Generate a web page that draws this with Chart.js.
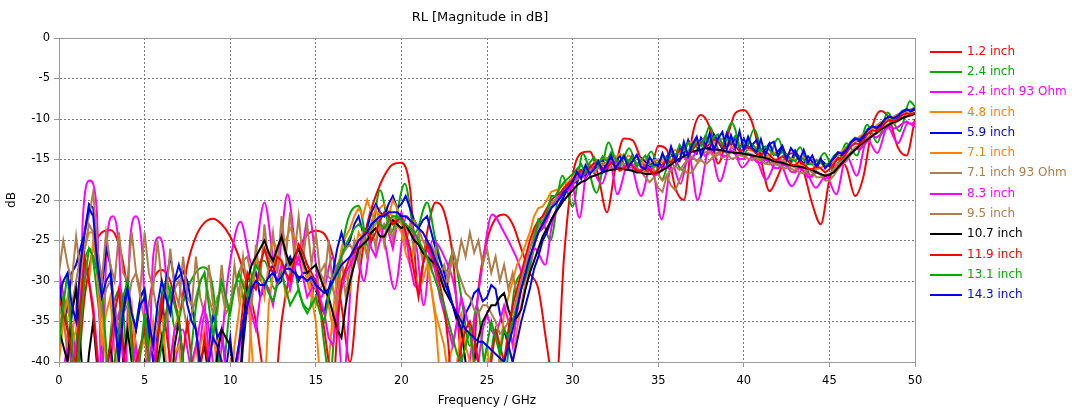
<!DOCTYPE html>
<html>
<head>
<meta charset="utf-8">
<script src="https://cdn.jsdelivr.net/npm/chart.js@4"></script>
<style>
  html, body { margin: 0; padding: 0; background: #fff; }
  #wrap { width: 1072px; height: 412px; }
</style>
</head>
<body>
<div id="wrap"><canvas id="rlChart" width="1072" height="412"></canvas></div>
<script>
// Frequenzraster (GHz): 0.5 GHz fuer 1.2 inch, 0.25 GHz fuer die verrauschten Kurven
const freq = [];
for (let i = 0; i <= 100; i++) freq.push(i / 2);
const freqFine = [];
for (let i = 0; i <= 200; i++) freqFine.push(i / 4);

const seriesNames = ['1.2 inch', '2.4 inch', '2.4 inch 93 Ohm', '4.8 inch', '5.9 inch', '7.1 inch',
  '7.1 inch 93 Ohm', '8.3 inch', '9.5 inch', '10.7 inch', '11.9 inch', '13.1 inch', '14.3 inch'];
const seriesColors = ['#ff0000', '#00aa00', '#ff00ff', '#ff8000', '#0000ff', '#ff8000',
  '#b07c48', '#ff00ff', '#b07c48', '#000000', '#ff0000', '#00aa00', '#0000ff'];

const xTicks = [0, 5, 10, 15, 20, 25, 30, 35, 40, 45, 50];
const yTicks = [0, -5, -10, -15, -20, -25, -30, -35, -40];

// RL in dB
const rl12 = [
  -30, -36, -42, -32, -26, -24, -23.7, -25.5, -31, -40,
  -36, -30, -28.6, -30, -34, -28, -24.5, -22.8, -22.3, -23,
  -24.5, -27, -30.5, -35, -42, -45, -35, -29, -26, -24.3,
  -23.8, -24.2, -27, -33, -40, -30, -23, -19.5, -17, -15.6,
  -15.4, -18.5, -31, -24, -20.3, -21.5, -27, -40, -45, -31,
  -25, -22.3, -21.8, -23, -26, -29, -31, -38, -44, -27,
  -17, -14.2, -14, -17, -21.5, -16, -12.4, -12.6, -15, -16.8,
  -13.3, -13.8, -18.5, -20, -12, -9.5, -11, -15.5, -12.5, -9.3,
  -8.9, -10.5, -15, -18.9, -17, -14.5, -14.2, -16.5, -20.5, -23,
  -17.5, -15, -16, -19.5, -17, -11, -9, -10, -13.5, -14.5,
  -10];

const f24 = [0, 0.4, 0.8, 1.3, 1.8, 2.3, 2.7, 3.2, 3.6, 4.1, 4.6, 5.0, 5.4, 5.9, 6.3, 6.8, 7.2, 7.7, 8.4, 9.0,
  9.5, 10.0, 10.5, 11.0, 11.4, 12.0, 12.6, 13.0, 13.6, 14.1, 14.6, 15.0, 15.5, 15.8, 16.3, 16.8, 17.5, 18.1, 18.75, 19.4,
  20.2, 20.8, 21.5, 22.0, 22.6, 23.0, 23.5, 24.0, 24.4, 25.0, 25.5, 26.0, 26.6, 27.0, 27.6, 28.2, 28.7, 29.4, 30.0, 30.6,
  31.4, 32.1, 32.7, 33.3, 33.9, 34.6, 35.2, 35.8, 36.4, 37.0, 37.5, 38.0, 38.6, 39.3, 40.0, 40.6, 41.3, 42.0, 42.6, 43.3,
  43.9, 44.7, 45.3, 46.0, 46.6, 47.2, 47.8, 48.4, 49.1, 49.7, 50];
const rl24 = [-31, -34, -41, -30, -26, -33, -42, -33, -31, -42, -34, -31, -42, -33, -30, -36, -33, -30, -28.3, -31,
  -42, -33, -30, -34, -29, -27.5, -31, -29, -27.5, -32, -33.5, -30, -38, -42, -30, -23, -20.7, -26, -18.8, -24,
  -18, -24, -20.3, -25, -29, -26.5, -32, -38, -33, -42, -36, -42, -31, -29, -27, -22.6, -25, -17, -20.8, -14.3,
  -19.1, -12.9, -16, -13.6, -16.5, -14, -17.5, -14.5, -16.3, -13, -14, -10.9, -14, -10.5, -14.5, -11.3, -15.5, -12.4, -15.8, -13.5,
  -17, -14.2, -16.5, -13, -14.5, -10.7, -12.9, -9.2, -11.5, -7.8, -8.5];

const f2493 = [0, 0.4, 0.8, 1.1, 1.4, 1.8, 2.2, 2.5, 2.8, 3.15, 3.5, 3.85, 4.15, 4.5, 4.85, 5.2, 5.5, 5.85, 6.2, 6.55,
  7.2, 7.9, 8.55, 9.2, 9.9, 10.6, 11.3, 12.0, 12.7, 13.35, 14.0, 14.6, 15.3, 16.0, 16.6, 17.3, 17.8, 18.4, 19.0, 19.6,
  20.3, 20.9, 21.3, 21.8, 22.5, 23.2, 23.7, 24.6, 25.3, 26.0, 26.7, 27.3, 27.8, 28.4, 28.8, 29.4, 29.9, 30.4, 30.9, 31.7,
  32.2, 32.6, 33.3, 34.0, 34.6, 35.2, 35.8, 36.3, 36.8, 37.3, 38.0, 38.6, 39.3, 39.9, 40.6, 41.3, 42.0, 42.8, 43.5, 44.2,
  44.8, 45.4, 46.0, 46.6, 47.2, 47.8, 48.4, 49.0, 49.6, 50];
const rl2493 = [-29, -33, -36, -42, -22, -17.6, -21, -42, -25, -22, -26, -42, -25, -22, -26, -42, -27, -24.6, -28, -42,
  -36, -42, -34, -42, -29, -22.7, -28, -20.3, -29, -19.3, -28, -21.8, -32, -27, -42, -25, -30, -22.5, -25, -31,
  -22, -26, -33, -25, -27, -32, -42, -30, -21.8, -24, -27, -30, -26, -28, -23, -20, -17.5, -22.2, -15.5, -18,
  -15.5, -19.3, -15.2, -19.5, -15.5, -22.4, -15.5, -18, -14.5, -20, -13.5, -17.7, -13.5, -16, -14.5, -17.5, -15, -18.3, -16, -18.5,
  -17, -19.3, -14.5, -17, -12.5, -14.2, -11, -13, -10.5, -11];

const rl48 = [
  -36, -33, -40, -37, -33, -29, -27, -30, -25, -29, -34, -40, -45, -42, -38, -34, -32, -39, -45, -39,
  -37, -41, -45, -36, -33, -40, -45, -39, -38, -43, -45, -40, -45, -38, -36, -42, -45, -37, -40, -45,
  -45, -38, -34, -30, -31, -38, -45, -45, -45, -33, -29, -26, -24.5, -25, -23.5, -24.5, -26, -28, -30, -32,
  -35, -42, -45, -40, -34, -29, -26, -24.5, -23.5, -22, -21, -22, -20, -21.5, -23, -21, -20.5, -21.5, -22, -23,
  -24, -26.5, -28, -25.5, -25, -27.5, -27, -31, -35, -42, -45, -40, -38, -35, -34, -38, -36, -41, -45, -42,
  -40, -43, -45, -39, -36, -38, -40, -36, -33, -30, -28, -25.5, -24, -23.5, -22, -20.5, -20, -19.5, -18.5, -18.2,
  -17.5, -16.6, -16.3, -16.9, -16.2, -15.4, -15.1, -15.8, -15.3, -14.8, -14.6, -15.4, -15, -14.5, -14.8, -15.5, -15.6, -15, -15.3, -16,
  -15.6, -15, -14.8, -15.2, -14.5, -13.9, -13.6, -14.2, -13.5, -12.9, -12.6, -13.2, -12.6, -12, -12.3, -13, -13.1, -12.5, -12.8, -13.4,
  -13.3, -12.8, -13.1, -13.7, -13.9, -13.4, -13.8, -14.4, -14.5, -14, -14.3, -14.9, -15.1, -14.6, -14.8, -15.4, -15.5, -15, -15.3, -15.8,
  -15.5, -14.8, -14.3, -14.4, -13.9, -13, -12.6, -12.7, -12.3, -11.5, -11.1, -11.2, -10.8, -10.2, -9.9, -10.1, -9.8, -9.3, -9, -9.1,
  -8.8];

const rl59 = [
  -30, -35, -33, -29, -28, -26, -24, -20.5, -21, -27, -31, -26, -28, -34, -38, -33, -30, -34, -36, -32,
  -31, -36, -40, -37, -34, -30, -27, -30, -29.5, -28.8, -30, -33, -36, -40, -45, -38, -34, -37, -36, -41,
  -37, -42, -45, -38, -33, -30, -29, -32, -31, -29, -28, -30.5, -30, -28, -27, -28.5, -30, -29, -29, -30.5,
  -31, -33, -34, -31, -29, -26, -24, -26, -25, -23, -22, -24, -23.5, -21.5, -20.5, -21.5, -22, -20.5, -19.5, -21,
  -20.5, -19.5, -21, -22.5, -23.5, -22.5, -22, -24, -26, -27.5, -29, -31, -33, -35, -36, -34, -33, -31.5, -31, -32.5,
  -32, -30.5, -31, -34, -36, -38, -40, -37.5, -35, -33, -31, -28.5, -27, -25, -24, -22.5, -21.5, -20.5, -19.5, -18.5,
  -17.5, -17.9, -16.4, -17, -15.8, -16.6, -15.4, -15.1, -16.3, -14.8, -15.7, -14.4, -15.8, -15.5, -14.5, -15.9, -14.8, -15.3, -16.1, -14.9,
  -15.1, -16.2, -14.6, -14.1, -15.3, -13.5, -14.4, -12.6, -13.9, -14.3, -12.3, -13.1, -13.8, -11.9, -12.8, -13.7, -11.8, -13.2, -12.3, -13.6,
  -12.4, -13.7, -13.2, -12.6, -14.2, -13.8, -13, -14.4, -14, -13.3, -14.7, -15.2, -13.9, -14.9, -15.5, -14.6, -15.3, -16, -15.1, -15.5,
  -15.8, -15, -14.2, -14.5, -13.9, -12.9, -12.5, -12.8, -12.3, -11.4, -10.9, -11.2, -10.8, -10, -9.7, -10, -9.8, -9.2, -8.9, -9.1,
  -8.8];

const rl71 = [
  -40, -35, -32, -38, -36, -30, -26, -24, -24, -30, -38, -34, -32, -39, -45, -40, -36, -33, -40, -45,
  -45, -39, -35, -40, -45, -43, -40, -36, -34, -40, -45, -41, -38, -42, -45, -40, -36, -41, -45, -42,
  -40, -45, -45, -45, -45, -33, -27, -29, -32, -28, -25, -26, -28, -32, -31, -28, -27, -27.5, -29, -31,
  -33, -31, -30, -33, -36, -32, -28, -29, -31, -27, -24, -25, -27, -23, -21, -23, -25, -22, -20, -21,
  -23, -24, -26, -29, -31, -30, -28, -31, -34, -36, -38, -42, -45, -40, -36, -38, -40, -43, -45, -41,
  -38, -42, -45, -39, -34, -32, -30, -28, -27, -25.5, -24, -22, -21, -20.8, -20, -19, -18.8, -18.6, -18, -17.8,
  -17.2, -16.4, -16.5, -16, -15.6, -15.9, -15.3, -14.7, -14.8, -15.3, -14.8, -14.3, -14.6, -15.2, -15.1, -14.6, -15, -15.6, -15.5, -15.1,
  -15, -15.4, -14.9, -14.2, -13.8, -14.3, -13.7, -13.1, -12.8, -13.3, -12.9, -12.2, -12.4, -13, -12.9, -12.4, -12.8, -13.4, -13.5, -13,
  -13.4, -13.8, -13.9, -13.5, -14, -14.6, -14.5, -14.1, -14.6, -15.1, -15.2, -14.8, -15.2, -15.8, -15.7, -15.3, -15.6, -16.2, -16, -15.7,
  -15.4, -15.2, -14.7, -13.9, -13.4, -13.3, -12.9, -12.2, -11.8, -11.6, -11.3, -10.8, -10.4, -10.4, -10.1, -9.7, -9.4, -9.4, -9.2, -8.8,
  -8.6];

const rl7193 = [
  -29, -25, -28, -30, -24.5, -29, -24, -22, -19, -26, -30, -24, -28, -30, -24, -29, -30, -24, -29, -31,
  -24, -29, -31, -25, -30, -32, -26, -31, -33, -27, -32, -33, -27, -32, -34, -28, -33, -34, -28, -33,
  -34, -28, -32, -27, -31, -33, -25.5, -30, -23, -28, -24, -29, -22, -27, -21.5, -27, -22, -27.5, -23, -28,
  -24, -29, -30, -25, -31, -33, -27, -32, -28, -25, -28, -24, -27, -23, -26, -22, -25.5, -22, -25, -22.5,
  -22, -25.5, -23, -26.5, -24, -27.5, -25, -28.5, -26, -29.5, -28, -30, -26, -28, -25, -27, -24, -26.5, -25, -28,
  -26, -29, -27, -30, -28, -31, -29, -32, -30, -28, -26, -24, -23, -22, -21, -20.5, -20, -19.2, -18.5, -18,
  -17.5, -17.2, -16.8, -16.3, -16, -16.4, -16.1, -15.6, -15.6, -16.1, -16, -15.5, -15.6, -16.2, -16.4, -16, -16.5, -17.2, -17.8, -17.2,
  -18.5, -19, -17, -18.2, -18.8, -17.5, -16.2, -16.8, -16.5, -15.6, -15, -15.6, -15.2, -14.5, -14.1, -14.8, -14.6, -14.1, -13.9, -14.5,
  -14.6, -14.2, -14.4, -15, -15.1, -14.7, -14.9, -15.5, -15.7, -15.2, -15.5, -16.1, -16.4, -15.9, -16.3, -17, -17, -16.5, -16.9, -17.6,
  -17.6, -17, -16.2, -15.6, -15.2, -14.4, -13.8, -13.5, -13.1, -12.5, -12, -11.8, -11.4, -10.9, -10.6, -10.5, -10.2, -9.8, -9.6, -9.5,
  -9.3];

const rl83 = [
  -45, -41, -38, -40, -42, -34, -28, -30, -33, -39, -45, -42, -40, -36, -34, -40, -45, -41, -38, -42,
  -45, -40, -37, -42, -45, -42, -40, -36, -35, -41, -45, -40, -38, -35, -33, -39, -45, -39, -36, -41,
  -45, -42, -39, -35, -32, -34, -36, -32, -30, -31, -33, -30, -28, -29, -31, -28.5, -27, -29.5, -32, -31,
  -30, -32, -34, -37, -38, -34, -31, -29, -28, -27, -26, -24.5, -24, -26, -27, -25, -23, -24, -26, -23,
  -21.5, -24, -28, -30.5, -31, -28, -26, -27, -29, -32, -34, -36, -38, -35, -32, -34, -36, -39, -40, -36,
  -34, -36, -37, -35, -33, -35, -38, -34, -31, -29, -27, -25.5, -24, -23.5, -22.5, -21, -20, -19.5, -18.5, -18.8,
  -18.2, -17.3, -16.8, -17.4, -16.6, -15.9, -15.8, -16.6, -16, -15.2, -15.3, -16.1, -15.9, -15.2, -15.6, -16.4, -16.3, -15.7, -16.1, -17,
  -16.8, -16.1, -15.8, -16.4, -15.8, -15, -14.6, -15.3, -14.8, -14, -13.8, -14.6, -14.1, -13.5, -13.8, -14.6, -14.5, -13.9, -14.3, -15,
  -14.9, -14.3, -14.7, -15.3, -15.5, -15, -15.3, -16, -16.1, -15.6, -15.8, -16.5, -16.6, -16, -16.4, -17.2, -17.1, -16.5, -16.8, -17.4,
  -16.9, -16.3, -15.4, -15.5, -14.9, -14.1, -13.6, -13.8, -13.3, -12.6, -12.1, -12.3, -11.9, -11.3, -10.9, -11.2, -11, -10.6, -10.3, -10.6,
  -10.4];

const rl95 = [
  -33, -35, -38, -33, -30, -27, -26, -23, -24, -29, -34, -31, -30, -33, -36, -34, -33, -30, -29, -32,
  -35, -33, -31, -34, -37, -35, -33, -31, -30, -33, -36, -34, -32, -30, -29, -32, -34, -32, -31, -34,
  -33, -31, -29, -27.5, -27, -29.5, -31, -28, -26, -27, -28, -26, -24.5, -27, -29, -27, -26, -27.5, -28, -30,
  -31, -29, -28, -29.5, -30, -28, -27, -26, -25.5, -26.5, -27, -25, -24, -24.5, -25, -23.5, -23, -24, -24.5, -23,
  -22.5, -23.5, -24, -22.5, -23.5, -25, -26, -25.5, -27, -29, -31, -29, -27.5, -28.5, -30, -31.5, -32, -33.5, -34, -33,
  -33, -34, -35, -36.5, -36, -35, -34, -32, -30, -28, -26, -24.5, -23.5, -22.5, -21.5, -20.5, -20, -19.8, -19, -18.3,
  -17.8, -17.5, -17.2, -16.6, -16.2, -16.6, -16, -15.4, -15.5, -16.2, -15.7, -15.2, -15.5, -16.1, -15.9, -15.4, -16, -16.6, -16.8, -16.3,
  -16.8, -17.6, -17, -16.3, -15.8, -16.3, -15.6, -15, -14.6, -15.2, -14.6, -14.1, -14, -14.7, -14.4, -13.9, -14.2, -14.9, -14.8, -14.3,
  -14.5, -14.9, -15.1, -14.6, -15, -15.5, -15.6, -15.2, -15.5, -16, -16.1, -15.7, -16, -16.6, -16.7, -16.2, -16.6, -17.2, -17.2, -16.9,
  -16.8, -16.3, -15.5, -15.2, -14.6, -14.1, -13.5, -13.3, -12.9, -12.3, -11.9, -11.8, -11.4, -10.9, -10.6, -10.6, -10.3, -9.9, -9.7, -9.6,
  -9.4];

const rl107 = [
  -36, -38, -40, -34, -31, -38, -45, -39, -35, -41, -45, -41, -38, -42, -45, -40, -36, -40, -45, -42,
  -40, -43, -45, -40, -37, -42, -45, -38, -35, -40, -45, -45, -45, -40, -38, -42, -45, -39, -36, -37,
  -38, -42, -45, -36, -30, -28, -27, -26, -25, -26.5, -27.5, -26, -24.5, -26.5, -28, -27, -26, -27.5, -29, -28.5,
  -28, -29.5, -31, -32, -34, -36, -37, -33, -30, -28, -26, -25.5, -25, -24, -23.5, -24.5, -24.5, -23.5, -22.5, -23,
  -23.5, -23, -24, -25, -25.5, -26.5, -27, -27.5, -28, -29.5, -31, -32, -33, -34.5, -36, -40, -45, -40, -37, -35,
  -34, -33, -33, -32, -31.5, -33.5, -35, -34.5, -33.5, -31, -29, -27.5, -26, -24.5, -23.5, -22.5, -21.5, -20.8, -20, -19.4,
  -18.8, -18.2, -17.8, -17.6, -17.2, -17, -16.8, -16.6, -16.4, -16.3, -16.2, -16.1, -16.2, -16.3, -16.4, -16.6, -16.6, -16.8, -16.8, -16.7,
  -16.6, -16.3, -16, -15.6, -15.2, -14.9, -14.6, -14.3, -14, -13.9, -13.8, -13.6, -13.7, -13.8, -13.8, -13.9, -14, -14.1, -14.2, -14.2,
  -14.3, -14.4, -14.5, -14.6, -14.7, -14.8, -15, -15.2, -15.3, -15.4, -15.6, -15.7, -15.8, -15.9, -16, -16.1, -16.3, -16.6, -16.8, -17,
  -16.9, -16.6, -16, -15.4, -14.8, -14.3, -13.8, -13.3, -12.9, -12.5, -12.1, -11.7, -11.3, -11, -10.7, -10.4, -10.2, -9.9, -9.7, -9.5,
  -9.3];

const rl119 = [
  -32, -34, -36, -39, -40, -33, -27, -30, -34, -40, -45, -41, -38, -34, -31, -38, -45, -42, -40, -38,
  -36, -40, -45, -38, -32, -36, -40, -43, -45, -39, -35, -40, -45, -41, -37, -41, -45, -42, -40, -43,
  -45, -41, -38, -33, -29, -30.5, -31, -28, -26, -28, -29, -27, -27.5, -29, -30, -27.5, -25.5, -26.5, -28, -29,
  -30, -33, -36, -40, -45, -36, -30, -28.5, -27, -26.5, -25, -24.5, -23.5, -25, -24, -22.5, -21.5, -22, -23, -22.5,
  -22, -24, -26, -29, -32, -28, -25.5, -26.5, -28, -30.5, -33, -38, -45, -41, -38, -36, -35, -37, -40, -43,
  -45, -40, -36, -38, -40, -36, -33, -31, -29, -27, -25, -23.5, -22.5, -22, -21, -20, -19.5, -19.2, -18.5, -18,
  -17.5, -16.8, -16.3, -16.7, -16, -15.5, -15.4, -16.1, -16, -15.4, -15.8, -16.4, -16.1, -15.5, -15.8, -16.4, -16.5, -15.9, -16.3, -16.8,
  -16.2, -15.6, -15, -15.4, -14.5, -13.9, -13.6, -14.3, -13.8, -13.1, -12.8, -13.5, -13.1, -12.5, -12.8, -13.5, -13.5, -12.9, -13.3, -14,
  -13.8, -13.4, -13.8, -14.3, -14.5, -14, -14.4, -15, -15, -14.6, -15, -15.6, -15.7, -15.2, -15.6, -16.1, -16.2, -15.8, -16.1, -16.6,
  -16.2, -15.5, -14.8, -14.9, -14.2, -13.4, -13, -13.1, -12.6, -11.8, -11.4, -11.5, -11.1, -10.5, -10.1, -10.3, -10, -9.5, -9.3, -9.4,
  -9.2];

const rl131 = [
  -38, -33, -29, -37, -45, -36, -30, -26, -27, -29, -31, -38, -45, -40, -36, -32, -30, -38, -45, -39,
  -34, -40, -45, -41, -38, -34, -31, -33, -35, -40, -45, -38, -33, -30, -29, -33, -37, -33, -30, -32,
  -34, -31, -29, -30.5, -32, -29.5, -28, -29, -30, -31.5, -32.5, -30.5, -29, -31, -33, -32, -31, -33, -34, -33,
  -32, -34, -35, -32, -30, -28.5, -27, -25.5, -24.5, -23.5, -23, -23.5, -24, -23, -22.5, -23, -23.5, -22.5, -22, -22,
  -22.5, -23, -23.5, -24, -25, -26, -27, -28.5, -30, -31.5, -33, -35, -37, -39, -40, -38, -36, -40, -45, -41,
  -38, -35, -37, -39, -36, -37, -35, -33, -31, -29.5, -28, -25, -22.4, -23, -21.5, -19.5, -19.5, -18.5, -17.8, -17.3,
  -16.8, -16.2, -15.6, -16.6, -15.4, -14.7, -15.8, -14.6, -15.2, -14.1, -14.9, -15.6, -14.4, -15.3, -14.6, -15.8, -15.1, -14.5, -15.6, -15.9,
  -15.4, -14.6, -14.9, -14, -14.6, -13.2, -13.9, -12.9, -13.6, -12.4, -13.3, -12.1, -12.9, -12.2, -11.9, -13.2, -12.5, -12.8, -12.1, -13.5,
  -13.3, -12.8, -13.2, -13.8, -13.9, -13.4, -13.8, -14.4, -14.5, -14, -14.4, -15, -15.2, -14.7, -15, -15.6, -15.6, -15.1, -15.4, -15.9,
  -15.4, -14.6, -14.1, -14.2, -13.6, -12.8, -12.3, -12.5, -12, -11.2, -10.9, -11.1, -10.6, -10, -9.7, -10, -9.6, -9, -8.8, -8.9,
  -8.6];

const rl143 = [
  -32, -30, -29, -33, -35, -28, -24, -21, -22, -28, -32, -30, -29, -35, -40, -34, -31, -34, -36, -33,
  -32, -35, -38, -33, -30, -32, -34, -30, -28, -30, -33, -35, -36, -41, -45, -40, -37, -38, -40, -43,
  -45, -41, -38, -35, -33, -31, -30, -30.5, -30.5, -29.5, -29, -30, -29.5, -28.5, -28.5, -29, -29.5, -29.5, -30, -29.5,
  -30.5, -31, -31.5, -31, -30, -29, -28, -27.5, -27, -26, -25, -24.5, -24, -23, -22.5, -22, -22, -21.5, -21.5, -21.5,
  -22, -22, -22.5, -23, -23.5, -24, -25, -26, -27.5, -28.5, -30, -31.5, -33, -34, -35, -36, -36.5, -37, -37.5, -37.5,
  -38, -38.5, -39, -39.5, -40, -38, -36, -33.5, -31, -29, -27, -25.5, -24, -23, -22, -21, -20.5, -19.8, -19, -18.4,
  -17.8, -16.5, -17.4, -15.7, -16.8, -16.2, -15.2, -16.5, -15.6, -14.5, -16.1, -15.3, -14.6, -16, -15.2, -14.4, -15.9, -16.2, -14.7, -15.6,
  -15.8, -14.2, -15.5, -13.4, -14.9, -15.2, -12.8, -14.6, -13.1, -12.2, -14.6, -13.4, -11.8, -13.9, -12.4, -11.6, -13.8, -12, -13.6, -11.5,
  -13.9, -12.2, -13.6, -14.1, -12.5, -14.5, -13.1, -12.8, -14.6, -13.4, -15, -13.6, -14.3, -15.1, -13.8, -15.4, -14.5, -15.8, -14.9, -16.1,
  -15.5, -14.8, -14.1, -14.3, -13.8, -12.9, -12.4, -12.6, -12.1, -11.3, -10.9, -11.1, -10.7, -10, -9.7, -9.9, -9.6, -9.1, -8.8, -9,
  -8.7];

const seriesX = [freq, f24, f2493, freqFine, freqFine, freqFine, freqFine, freqFine, freqFine, freqFine, freqFine, freqFine, freqFine];
const seriesY = [rl12, rl24, rl2493, rl48, rl59, rl71, rl7193, rl83, rl95, rl107, rl119, rl131, rl143];
const smoothSeries = [0, 1, 2];

const FONT = 'DejaVu Sans';

function toPoints(xs, ys) {
  return ys.map((y, i) => ({ x: xs[i], y: y }));
}

const datasets = seriesNames.map((name, i) => ({
  label: name,
  data: toPoints(seriesX[i], seriesY[i]),
  borderColor: seriesColors[i],
  backgroundColor: seriesColors[i],
  borderWidth: 2,
  pointRadius: 0,
  fill: false,
  tension: 0,
  cubicInterpolationMode: smoothSeries.includes(i) ? 'monotone' : 'default',
  order: -i
}));

// Rahmen um die Plotflaeche, Titel und Legende rechts
const framePlugin = {
  id: 'frameAndLegend',
  afterDraw(chart) {
    const a = chart.chartArea;
    const ctx = chart.ctx;
    ctx.save();
    ctx.strokeStyle = '#999999';
    ctx.lineWidth = 1;
    ctx.setLineDash([]);
    ctx.strokeRect(Math.round(a.left) + 0.5, Math.round(a.top) + 0.5,
      Math.round(a.right - a.left), Math.round(a.bottom - a.top));

    ctx.fillStyle = '#000';
    ctx.font = '13px "' + FONT + '"';
    ctx.textAlign = 'center';
    ctx.textBaseline = 'middle';
    ctx.fillText('RL [Magnitude in dB]', 480, 18);

    ctx.font = '12px "' + FONT + '"';
    ctx.textAlign = 'left';
    seriesNames.forEach((name, i) => {
      const y = 51.5 + i * 20.3;
      ctx.strokeStyle = seriesColors[i];
      ctx.lineWidth = 2;
      ctx.beginPath();
      ctx.moveTo(930, Math.round(y));
      ctx.lineTo(962, Math.round(y));
      ctx.stroke();
      ctx.fillStyle = seriesColors[i];
      ctx.fillText(name, 967, y);
    });
    ctx.restore();
  }
};

new Chart(document.getElementById('rlChart').getContext('2d'), {
  type: 'line',
  data: { datasets: datasets },
  options: {
    responsive: false,
    animation: false,
    layout: { padding: { left: 0, right: 157, top: 38, bottom: 0 } },
    plugins: {
      legend: { display: false },
      tooltip: { enabled: false },
      title: { display: false }
    },
    scales: {
      x: {
        type: 'linear',
        min: 0,
        max: 50,
        afterFit: s => { s.height = 50; },
        afterBuildTicks: s => { s.ticks = xTicks.map(v => ({ value: v })); },
        ticks: { color: '#000', padding: 7, maxRotation: 0, font: { family: FONT, size: 11.5 } },
        grid: { color: '#7a7a7a', tickColor: '#999', tickLength: 5, tickBorderDash: [] },
        border: { display: true, color: '#999', dash: [2, 2] },
        title: { display: true, text: 'Frequency / GHz', color: '#000', font: { family: FONT, size: 12 }, padding: { top: 2, bottom: 4 } }
      },
      y: {
        min: -40,
        max: 0,
        afterFit: s => { s.width = 59; },
        afterBuildTicks: s => { s.ticks = yTicks.map(v => ({ value: v })); },
        ticks: { color: '#000', padding: 4, font: { family: FONT, size: 11.5 } },
        grid: { color: '#7a7a7a', tickColor: '#999', tickLength: 5, tickBorderDash: [] },
        border: { display: true, color: '#999', dash: [2, 2] },
        title: { display: true, text: 'dB', color: '#000', font: { family: FONT, size: 12 }, padding: { top: 5, bottom: 2 } }
      }
    }
  },
  plugins: [framePlugin]
});
</script>
</body>
</html>
